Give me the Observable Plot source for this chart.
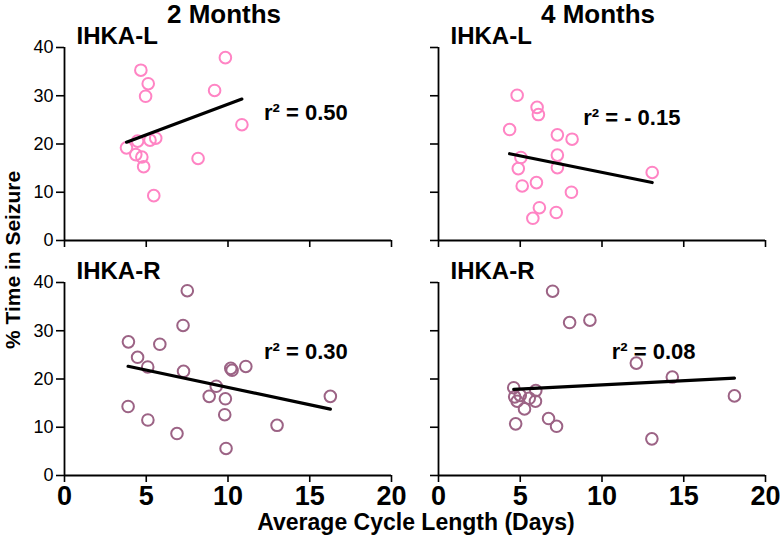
<!DOCTYPE html>
<html>
<head>
<meta charset="utf-8">
<script src="https://cdn.jsdelivr.net/npm/d3@7"></script>
<script src="https://cdn.jsdelivr.net/npm/@observablehq/plot@0.6"></script>
<style>
  html, body { margin: 0; padding: 0; background: #fff; }
  #chart { width: 780px; height: 537px; }
</style>
</head>
<body>
<div id="chart"></div>
<script>
// Panel categories
const periods = ["2 Months", "4 Months"];
const groups = ["IHKA-L", "IHKA-R"];

// IHKA-L, 2 Months
const x2L = [4.67, 5.12, 4.96, 9.84, 9.18, 10.85, 3.79, 4.47, 5.23, 5.58, 4.36, 4.73, 4.84, 8.17, 5.46];
const y2L = [35.3, 32.5, 29.9, 37.9, 31.1, 24.0, 19.2, 20.6, 20.8, 21.2, 17.8, 17.3, 15.3, 17.0, 9.3];
// IHKA-L, 4 Months
const x4L = [4.81, 6.03, 6.11, 4.35, 7.27, 8.17, 5.04, 7.27, 4.88, 7.27, 5.99, 5.12, 8.13, 6.17, 7.2, 5.77, 13.07];
const y4L = [30.1, 27.6, 26.1, 23.0, 21.9, 21.0, 17.2, 17.7, 14.9, 15.1, 12.0, 11.3, 10.0, 6.8, 5.8, 4.6, 14.1];
// IHKA-R, 2 Months
const x2R = [7.51, 7.25, 3.91, 5.83, 4.47, 5.09, 7.28, 10.17, 10.25, 11.09, 9.28, 8.85, 9.84, 16.26, 3.89, 5.1, 9.8, 13.0, 6.88, 9.88];
const y2R = [38.3, 31.1, 27.7, 27.2, 24.5, 22.5, 21.6, 22.2, 21.8, 22.6, 18.5, 16.4, 15.9, 16.4, 14.3, 11.5, 12.6, 10.4, 8.7, 5.6];
// IHKA-R, 4 Months
const x4R = [6.98, 8.02, 9.26, 12.1, 14.3, 18.1, 4.6, 5.95, 4.66, 4.81, 5.55, 5.93, 5.26, 4.72, 6.73, 7.22, 13.05, 5.0];
const y4R = [38.2, 31.7, 32.2, 23.3, 20.4, 16.5, 18.2, 17.6, 16.3, 15.4, 16.0, 15.4, 13.8, 10.7, 11.8, 10.2, 7.6, 16.6];

// r² annotations (per panel: 2L, 4L, 2R, 4R) and their anchor in data units
const rLabels = ["r\u00B2 = 0.50", "r\u00B2 = - 0.15", "r\u00B2 = 0.30", "r\u00B2 = 0.08"];
const rPeriod = ["2 Months", "4 Months", "2 Months", "4 Months"];
const rGroup = ["IHKA-L", "IHKA-L", "IHKA-R", "IHKA-R"];
const rX = [12.2, 8.85, 12.2, 10.6];
const rY = [26.5, 25.4, 25.7, 25.7];

const xTicks = [0, 5, 10, 15, 20];
const yTicks = [0, 10, 20, 30, 40];

const colors = ["#ff84c4", "#9c6385"];

// Build table
const rows = [];
function add(xs, ys, period, group) {
  xs.forEach((x, i) => rows.push({x, y: ys[i], period, group}));
}
add(x2L, y2L, "2 Months", "IHKA-L");
add(x4L, y4L, "4 Months", "IHKA-L");
add(x2R, y2R, "2 Months", "IHKA-R");
add(x4R, y4R, "4 Months", "IHKA-R");

const rRows = rLabels.map((t, i) => ({text: t, period: rPeriod[i], group: rGroup[i], x: rX[i], y: rY[i]}));
const panelLabels = [];
periods.forEach(p => groups.forEach(g => panelLabels.push({period: p, group: g})));

const font = "'Liberation Sans', Arial, Helvetica, sans-serif";

const chart = Plot.plot({
  width: 780,
  height: 537,
  marginTop: 46.5,
  marginBottom: 61,
  marginLeft: 64,
  marginRight: 15,
  facet: {marginTop: 0, marginRight: 0, marginBottom: 0, marginLeft: 0},
  style: {background: "#fff", color: "#000", overflow: "visible"},
  fx: {domain: periods, paddingInner: 0.126, paddingOuter: 0, axis: null},
  fy: {domain: groups, paddingInner: 0.18, paddingOuter: 0, axis: null},
  x: {domain: [0, 20]},
  y: {domain: [0, 40]},
  color: {domain: groups, range: colors},
  marks: [
    // tick marks on every panel
    Plot.axisX({ticks: xTicks, tickSize: 7, strokeWidth: 1.6, text: null, label: null, facetAnchor: null}),
    Plot.axisY({ticks: yTicks, tickSize: 8, strokeWidth: 1.6, text: null, label: null, facetAnchor: null}),
    // tick labels on outer panels only
    Plot.axisX({ticks: xTicks, tickSize: 0, tickPadding: 10, label: null, fontSize: 27, fontWeight: "bold", fontFamily: font}),
    Plot.axisY({ticks: yTicks, tickSize: 0, tickPadding: 11, label: null, fontSize: 18, fontFamily: font}),
    // axis lines
    Plot.ruleX([0], {stroke: "#000", strokeWidth: 1.8}),
    Plot.ruleY([0], {stroke: "#000", strokeWidth: 1.8}),
    // points
    Plot.dot(rows, {x: "x", y: "y", fx: "period", fy: "group", stroke: "group", r: 5.8, strokeWidth: 2, fill: "none"}),
    // regression lines
    Plot.linearRegressionY(rows, {x: "x", y: "y", fx: "period", fy: "group", stroke: "#000", strokeWidth: 3.2, ci: 0}),
    // r² labels
    Plot.text(rRows, {x: "x", y: "y", fx: "period", fy: "group", text: "text", textAnchor: "start", fontSize: 22, fontWeight: "bold", fontFamily: font, fill: "#000"}),
    // panel labels
    Plot.text(panelLabels, {fx: "period", fy: "group", text: "group", frameAnchor: "top-left", textAnchor: "start", lineAnchor: "middle", dx: 12, dy: -11, fontSize: 24, fontWeight: "bold", fontFamily: font, fill: "#000"}),
    // column titles
    Plot.text(periods, {fx: d => d, fy: () => "IHKA-L", text: d => d, frameAnchor: "top", lineAnchor: "middle", dx: -4, dy: -33, fontSize: 26, fontWeight: "bold", fontFamily: font, fill: "#000"})
  ]
});

document.getElementById("chart").appendChild(chart);

// Shared axis titles
const svg = d3.select(chart);
svg.append("text")
  .attr("x", 416).attr("y", 522)
  .attr("text-anchor", "middle").attr("dy", "0.35em")
  .attr("font-family", font).attr("font-weight", "bold").attr("font-size", 23)
  .attr("fill", "#000")
  .text("Average Cycle Length (Days)");
svg.append("text")
  .attr("transform", "translate(21,260) rotate(-90)")
  .attr("text-anchor", "middle").attr("dy", "-0.05em")
  .attr("font-family", font).attr("font-weight", "bold").attr("font-size", 21)
  .attr("fill", "#000")
  .text("% Time in Seizure");
</script>
</body>
</html>
